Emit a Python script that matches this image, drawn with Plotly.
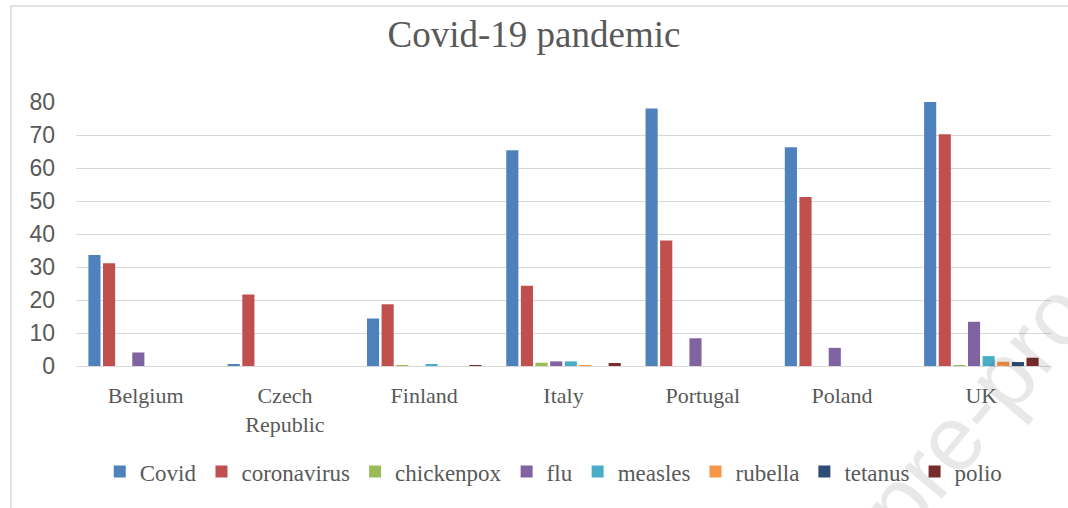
import plotly.graph_objects as go

countries = ["Belgium", "Czech<br>Republic", "Finland", "Italy", "Portugal", "Poland", "UK"]

covid       = [33.6, 0.4, 14.4, 65.4, 78.0, 66.3, 80.0]
coronavirus = [31.1, 21.7, 18.7, 24.3, 38.0, 51.2, 70.2]
chickenpox  = [0.0, 0.0, 0.3, 1.0, 0.0, 0.0, 0.3]
flu         = [4.1, 0.0, 0.0, 1.4, 8.4, 5.5, 13.4]
measles     = [0.0, 0.0, 0.4, 1.4, 0.0, 0.0, 3.0]
rubella     = [0.0, 0.0, 0.0, 0.3, 0.0, 0.0, 1.3]
tetanus     = [0.0, 0.0, 0.0, 0.0, 0.0, 0.0, 1.2]
polio       = [0.0, 0.0, 0.3, 0.9, 0.0, 0.0, 2.5]

series = [
    ("Covid", covid, "#4F81BD"),
    ("coronavirus", coronavirus, "#C0504D"),
    ("chickenpox", chickenpox, "#9BBB59"),
    ("flu", flu, "#8064A2"),
    ("measles", measles, "#4BACC6"),
    ("rubella", rubella, "#F79646"),
    ("tetanus", tetanus, "#2C4D75"),
    ("polio", polio, "#772C2A"),
]

fig = go.Figure()
for name, vals, color in series:
    fig.add_trace(go.Bar(
        name=name, x=countries, y=vals,
        marker=dict(color=color, line=dict(width=0)),
    ))

text_grey = "#595959"
grid_grey = "#D9D9D9"

fig.update_layout(
    width=1068, height=508,
    margin=dict(l=76, r=17, t=102, b=142),
    paper_bgcolor="white", plot_bgcolor="white",
    barmode="group", bargap=0.16, bargroupgap=0.17,
    title=dict(
        text="Covid-19 pandemic",
        x=0.5, xanchor="center", y=0.933, yanchor="middle",
        font=dict(family="Liberation Serif", size=37, color=text_grey),
    ),
    legend=dict(
        orientation="h", x=0.49, xanchor="center", y=-0.40, yanchor="middle",
        font=dict(family="Liberation Serif", size=23, color=text_grey),
        traceorder="normal", itemclick=False, itemwidth=30,
    ),
    xaxis=dict(
        showgrid=False, showline=False, ticks="", ticklabelstandoff=14,
        tickfont=dict(family="Liberation Serif", size=22, color=text_grey),
    ),
    yaxis=dict(
        range=[0, 80], dtick=10, showgrid=True, gridcolor=grid_grey, gridwidth=1.3,
        zeroline=True, zerolinecolor=grid_grey, zerolinewidth=1.3,
        showline=False, ticks="", ticklabelstandoff=20,
        tickfont=dict(family="Liberation Sans", size=23, color=text_grey),
    ),
    shapes=[
        dict(type="rect", xref="paper", yref="paper",
             x0=(11 - 76) / 975, x1=1.2, y0=-1.0, y1=(366 - 6) / 264,
             line=dict(color="#D9D9D9", width=1.5), fillcolor="rgba(0,0,0,0)",
             layer="below"),
    ],
    annotations=[
        dict(text="Journal pre-proof", xref="paper", yref="paper",
             x=(895 - 76) / 975, y=(366 - 505) / 264, showarrow=False,
             textangle=-50, xanchor="center", yanchor="middle",
             font=dict(family="Liberation Sans", size=92, color="rgba(0,0,0,0.09)")),
    ],
)

fig.write_html("out.html")
